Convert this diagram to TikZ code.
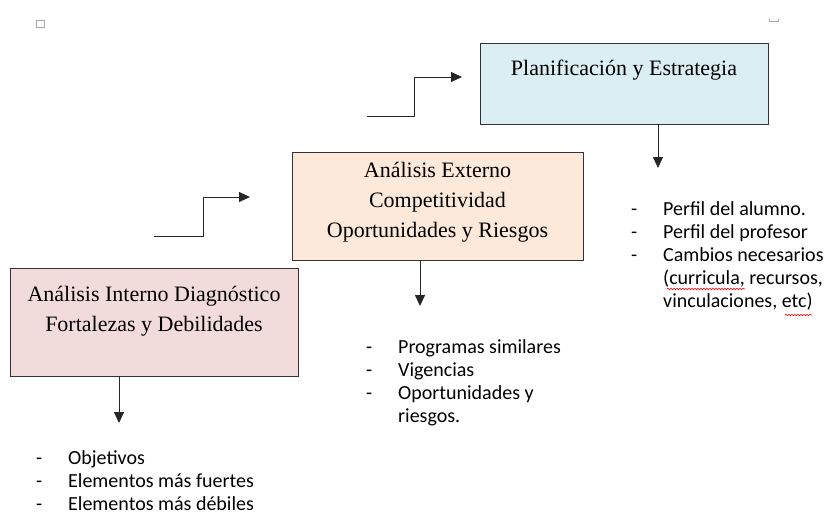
\documentclass[tikz,border=0pt]{standalone}
\usepackage{fontspec}
\setmainfont{Liberation Serif}
\newfontfamily\listfont{Carlito}
\usetikzlibrary{arrows.meta,positioning,decorations.pathmorphing}
\definecolor{planblue}{HTML}{DBEEF3}
\definecolor{extpeach}{HTML}{FDE9D9}
\definecolor{intpink}{HTML}{F2DCDB}
\newcommand{\li}[1]{\makebox[32pt][l]{-}#1}
\newcommand{\cont}[1]{\hspace*{32pt}#1}
\tikzset{
  box/.style={draw=black!80, line width=0.9pt, inner sep=0pt},
  boxtext/.style={font=\fontsize{22}{30}\selectfont, align=center, inner sep=0pt},
  listtext/.style={font=\listfont\fontsize{20}{23}\selectfont, align=left, inner sep=0pt},
  flow/.style={-{Triangle[length=11pt,width=10pt]}, line width=0.9pt, black!85},
  spellwave/.style={red, line width=0.6pt, decorate, decoration={snake, amplitude=0.8pt, segment length=3pt}}
}
\begin{document}
\begin{tikzpicture}[x=1pt,y=-1pt]
    \useasboundingbox (0,0) rectangle (829,515);
    \draw[gray!70, line width=0.8pt] (36,20) rectangle (44,27);
    \draw[gray!70, line width=0.8pt] (769,19) -- (769,21) -- (778,21) -- (778,19);

    \node[box, fill=planblue, minimum width=288pt, minimum height=81pt] (plan) at (624,83.5) {};
    \node[box, fill=extpeach, minimum width=291pt, minimum height=108pt] (externo) at (437.5,206) {};
    \node[box, fill=intpink, minimum width=288pt, minimum height=108pt] (interno) at (154,322) {};

    \node[boxtext, anchor=base] (plantxt) at ([yshift=-33pt]plan.north) {Planificación y Estrategia};
    \node[boxtext, anchor=base] (externotxt) at ([yshift=-86pt]externo.north) {Análisis Externo\\Competitividad\\Oportunidades y Riesgos};
    \node[boxtext, anchor=base] (internotxt) at ([yshift=-64pt]interno.north) {Análisis Interno Diagnóstico\\Fortalezas y Debilidades};

    \coordinate (s1) at (154,236);
    \coordinate (e1) at (250,197);
    \draw[flow] (s1) -- ++(49,0) |- (e1);
    \coordinate (s2) at (367,116);
    \coordinate (e2) at (462,77);
    \draw[flow] (s2) -- ++(47,0) |- (e2);

    \coordinate (d1) at (658,168);
    \draw[flow] (plan.south -| d1) -- (d1);
    \coordinate (d2) at (420,306);
    \draw[flow] (externo.south -| d2) -- (d2);
    \coordinate (d3) at (119,423);
    \draw[flow] (interno.south -| d3) -- (d3);

    \node[listtext, anchor=base west] (planlist) at (631,307) {\li{Perfil del alumno.}\\\li{Perfil del profesor}\\\li{Cambios necesarios}\\\cont{(curricula, recursos,}\\\cont{vinculaciones, etc)}};
    \node[listtext, anchor=base west] (externolist) at (366,422) {\li{Programas similares}\\\li{Vigencias}\\\li{Oportunidades y}\\\cont{riesgos.}};
    \node[listtext, anchor=base west] (internolist) at (36,510) {\li{Objetivos}\\\li{Elementos más fuertes}\\\li{Elementos más débiles}};

    \draw[spellwave] (667,289) -- (745,289);
    \draw[spellwave] (785,315) -- (812,315);
\end{tikzpicture}
\end{document}
